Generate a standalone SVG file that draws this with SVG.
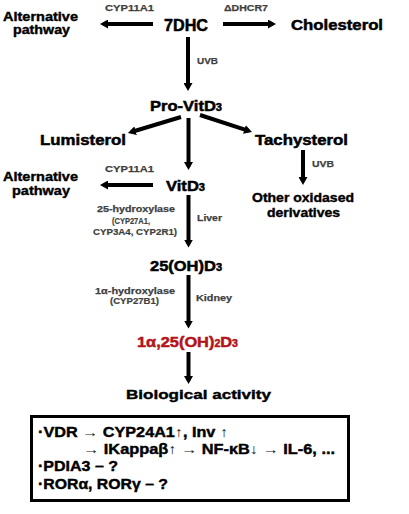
<svg xmlns="http://www.w3.org/2000/svg" width="409" height="514" viewBox="0 0 409 514">
<defs>
<marker id="ah" viewBox="0 0 8 9" refX="4.5" refY="4.5" markerWidth="2" markerHeight="2.25" orient="auto" markerUnits="strokeWidth">
<path d="M0,0 L8,4.5 L0,9 z" fill="#000"/>
</marker>
<style>
text{font-family:"Liberation Sans",Arial,sans-serif;font-weight:bold;}
.n{font-size:15px;fill:#000;stroke:#000;stroke-width:0.5;}
.m{font-size:13px;fill:#000;stroke:#000;stroke-width:0.4;}
.s{font-size:9.5px;fill:#3f3f3f;stroke:#3f3f3f;stroke-width:0.25;}
.p{font-size:8.5px;fill:#3f3f3f;stroke:#3f3f3f;stroke-width:0.2;}
.r{font-size:15.5px;fill:#b3141b;stroke:#b3141b;stroke-width:0.5;}
.b{font-size:14px;fill:#000;stroke:#000;stroke-width:0.4;}
.ar{font-weight:normal;stroke-width:0;fill:#222;}
.e{stroke:#000;stroke-width:4;fill:none;marker-end:url(#ah);}
</style>
</defs>
<rect width="409" height="514" fill="#fff"/>
<g id="connectors">
<line class="e" x1="153" y1="24" x2="103.5" y2="24"/>
<line class="e" x1="223" y1="24" x2="272.5" y2="24"/>
<line class="e" x1="188" y1="37" x2="188" y2="87.5"/>
<line class="e" x1="181" y1="117" x2="131.3" y2="132"/>
<line class="e" x1="200" y1="115" x2="248.7" y2="130.9"/>
<line class="e" x1="188.5" y1="118" x2="188.5" y2="166.5"/>
<line class="e" x1="303" y1="150" x2="303" y2="181.5"/>
<line class="e" x1="153" y1="185" x2="103.5" y2="185"/>
<line class="e" x1="188.5" y1="195" x2="188.5" y2="244"/>
<line class="e" x1="188.5" y1="275" x2="188.5" y2="325"/>
<line class="e" x1="188.5" y1="352" x2="188.5" y2="380.5"/>
</g>
<g id="edge-labels">
<text class="s" x="105" y="11" textLength="49" lengthAdjust="spacingAndGlyphs">CYP11A1</text>
<text class="s" x="224" y="11" textLength="44" lengthAdjust="spacingAndGlyphs">ΔDHCR7</text>
<text class="s" x="197" y="64" textLength="21" lengthAdjust="spacingAndGlyphs">UVB</text>
<text class="s" x="312" y="167" textLength="22" lengthAdjust="spacingAndGlyphs">UVB</text>
<text class="s" x="105" y="172" textLength="49" lengthAdjust="spacingAndGlyphs">CYP11A1</text>
<text class="s" x="97" y="212" textLength="78" lengthAdjust="spacingAndGlyphs">25-hydroxylase</text>
<text class="p" x="112" y="224" textLength="38" lengthAdjust="spacingAndGlyphs">(CYP27A1,</text>
<text class="p" x="93" y="235" textLength="84" lengthAdjust="spacingAndGlyphs">CYP3A4, CYP2R1)</text>
<text class="s" x="197" y="221" textLength="25" lengthAdjust="spacingAndGlyphs">Liver</text>
<text class="s" x="95" y="294" textLength="80" lengthAdjust="spacingAndGlyphs">1α-hydroxylase</text>
<text class="p" x="110" y="304" textLength="49" lengthAdjust="spacingAndGlyphs">(CYP27B1)</text>
<text class="s" x="196" y="301" textLength="36" lengthAdjust="spacingAndGlyphs">Kidney</text>
</g>
<g id="alt1"><text class="m" x="3" y="20.5" textLength="75" lengthAdjust="spacingAndGlyphs">Alternative</text><text class="m" x="13" y="34" textLength="57" lengthAdjust="spacingAndGlyphs">pathway</text></g>
<g id="dhc7"><text class="n" x="164" y="31" textLength="44" lengthAdjust="spacingAndGlyphs" style="font-size:16px">7DHC</text></g>
<g id="cholesterol"><text class="n" x="291" y="30" textLength="92" lengthAdjust="spacingAndGlyphs">Cholesterol</text></g>
<g id="provitd3"><text class="n" x="150" y="111" textLength="72" lengthAdjust="spacingAndGlyphs">Pro-VitD<tspan font-size="10">3</tspan></text></g>
<g id="lumisterol"><text class="n" x="40" y="145" textLength="86" lengthAdjust="spacingAndGlyphs">Lumisterol</text></g>
<g id="tachysterol"><text class="n" x="255" y="145" textLength="93" lengthAdjust="spacingAndGlyphs">Tachysterol</text></g>
<g id="oxidased"><text class="m" x="252" y="202" textLength="102" lengthAdjust="spacingAndGlyphs">Other oxidased</text><text class="m" x="267" y="216.5" textLength="73" lengthAdjust="spacingAndGlyphs">derivatives</text></g>
<g id="alt2"><text class="m" x="3" y="181" textLength="75" lengthAdjust="spacingAndGlyphs">Alternative</text><text class="m" x="12" y="194.5" textLength="58" lengthAdjust="spacingAndGlyphs">pathway</text></g>
<g id="vitd3"><text class="n" x="166" y="191" textLength="39" lengthAdjust="spacingAndGlyphs">VitD<tspan font-size="10">3</tspan></text></g>
<g id="ohd3"><text class="n" x="150" y="270.5" textLength="72" lengthAdjust="spacingAndGlyphs">25(OH)D<tspan font-size="10">3</tspan></text></g>
<g id="calcitriol"><text class="r" x="137" y="347" textLength="101" lengthAdjust="spacingAndGlyphs">1α,25(OH)<tspan font-size="10">2</tspan>D<tspan font-size="10">3</tspan></text></g>
<g id="bioactivity"><text class="m" x="126" y="399" textLength="145" lengthAdjust="spacingAndGlyphs" style="font-size:13.5px">Biological activity</text></g>
<g id="box">
<rect x="31.5" y="416.5" width="317" height="84" fill="none" stroke="#000" stroke-width="3"/>
<text class="b" x="38" y="437" textLength="190" lengthAdjust="spacingAndGlyphs">·VDR <tspan class="ar">→</tspan> CYP24A1<tspan class="ar">↑</tspan>, Inv <tspan class="ar">↑</tspan></text>
<text class="b" x="83" y="453.5" textLength="252" lengthAdjust="spacingAndGlyphs"><tspan class="ar">→</tspan> IKappaβ<tspan class="ar">↑</tspan> <tspan class="ar">→</tspan> NF-κB<tspan class="ar">↓</tspan> <tspan class="ar">→</tspan> IL-6, ...</text>
<text class="b" x="38" y="471" textLength="80" lengthAdjust="spacingAndGlyphs">·PDIA3 – ?</text>
<text class="b" x="38" y="489" textLength="130" lengthAdjust="spacingAndGlyphs">·RORα, RORγ – ?</text>
</g>
</svg>
